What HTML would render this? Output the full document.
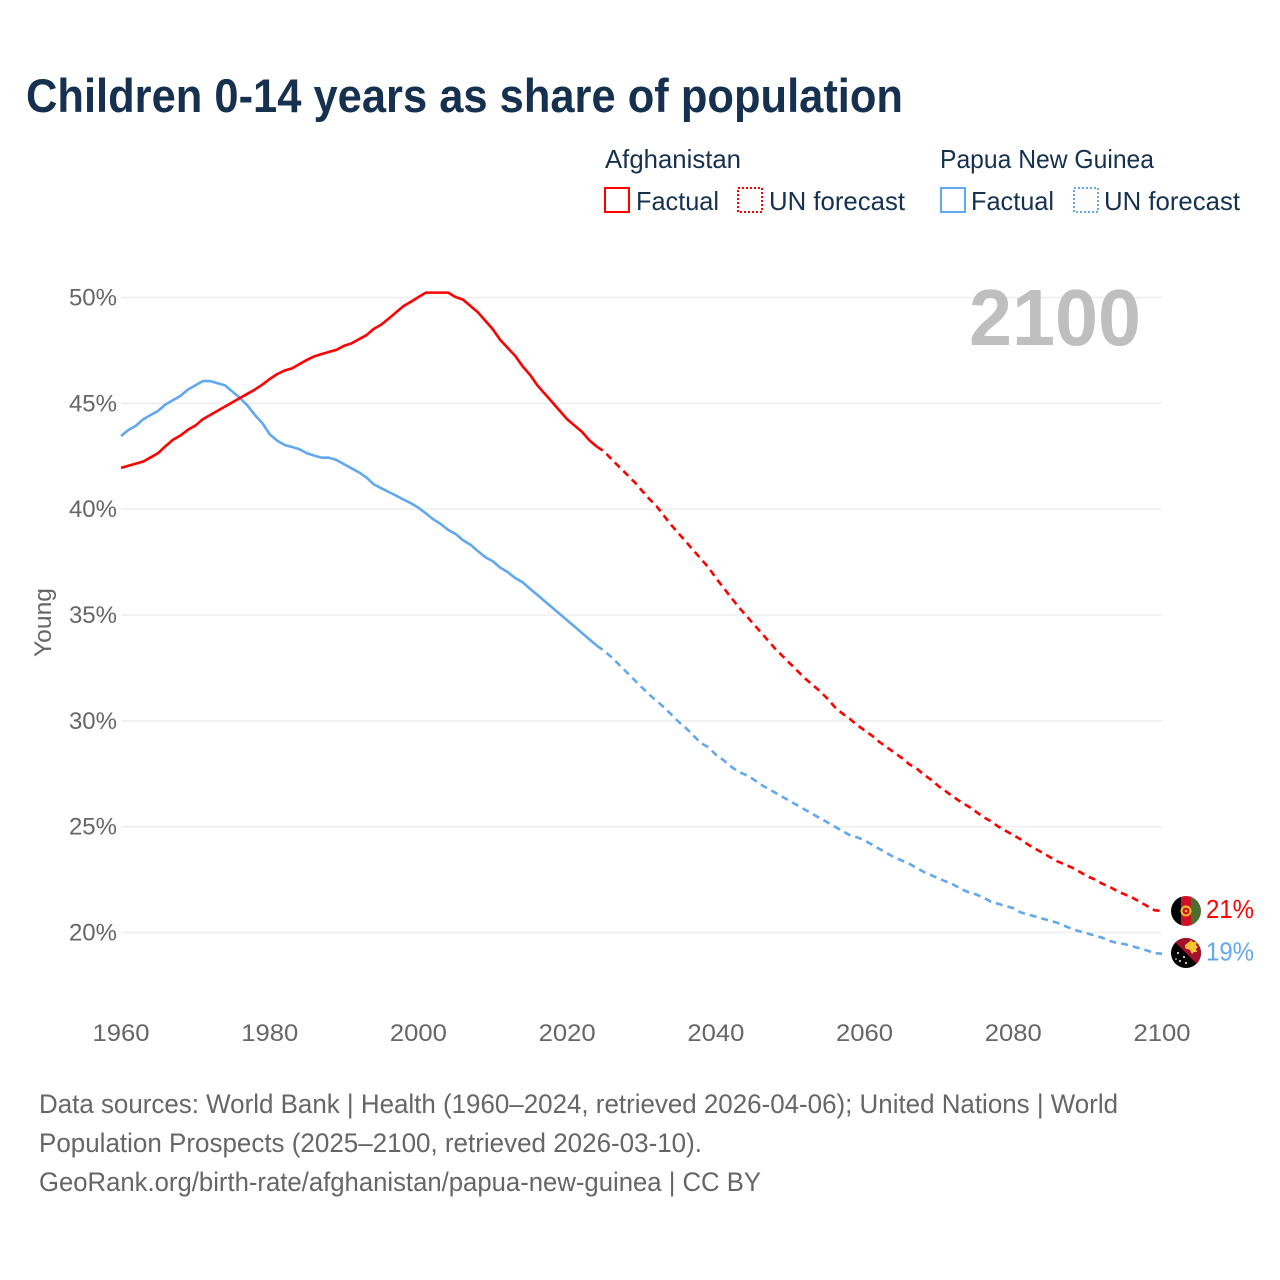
<!DOCTYPE html>
<html lang="en">
<head>
<meta charset="utf-8">
<title>Children 0-14 years as share of population</title>
<style>
html,body{margin:0;padding:0;background:#fff}
svg{display:block;font-family:"Liberation Sans",sans-serif}
</style>
</head>
<body>
<svg id="chart" xmlns="http://www.w3.org/2000/svg" width="1280" height="1280" viewBox="0 0 1280 1280">
  <defs>
    <clipPath id="flag-clip-af"><circle cx="1186" cy="911" r="15"/></clipPath>
    <clipPath id="flag-clip-pg"><circle cx="1186" cy="953" r="15"/></clipPath>
  </defs>
  <rect width="1280" height="1280" fill="#fff"/>
  <text x="26" y="112" font-size="47" font-weight="700" fill="#16304f" textLength="877" lengthAdjust="spacingAndGlyphs">Children 0-14 years as share of population</text>

  <g font-size="26" fill="#16304f">
    <text x="605" y="168" textLength="136" lengthAdjust="spacingAndGlyphs">Afghanistan</text>
    <text x="940" y="168" textLength="214" lengthAdjust="spacingAndGlyphs">Papua New Guinea</text>
    <rect x="605" y="188" width="24" height="24" fill="none" stroke="#ff0000" stroke-width="2"/>
    <text x="636" y="210" textLength="83" lengthAdjust="spacingAndGlyphs">Factual</text>
    <rect x="738" y="188" width="24" height="24" fill="none" stroke="#ff0000" stroke-width="2" stroke-dasharray="2 2"/>
    <text x="769" y="210" textLength="136" lengthAdjust="spacingAndGlyphs">UN forecast</text>
    <rect x="941" y="188" width="24" height="24" fill="none" stroke="#62a8ee" stroke-width="2"/>
    <text x="971" y="210" textLength="83" lengthAdjust="spacingAndGlyphs">Factual</text>
    <rect x="1074" y="188" width="24" height="24" fill="none" stroke="#62a8ee" stroke-width="2" stroke-dasharray="2 2"/>
    <text x="1104" y="210" textLength="136" lengthAdjust="spacingAndGlyphs">UN forecast</text>
  </g>

  <g id="grid"></g>
  <g id="y-ticks"></g>
  <g id="x-ticks"></g>
  <text transform="translate(51,657) rotate(-90)" font-size="24" fill="#666" textLength="69" lengthAdjust="spacingAndGlyphs">Young</text>
  <text x="969" y="345" font-size="80" font-weight="700" fill="#bfbfbf" textLength="172" lengthAdjust="spacingAndGlyphs">2100</text>
  <g id="series"></g>

  <g clip-path="url(#flag-clip-af)">
    <rect x="1171" y="896" width="10" height="30" fill="#000"/>
    <rect x="1181" y="896" width="10" height="30" fill="#d00f25"/>
    <rect x="1191" y="896" width="10" height="30" fill="#4a7030"/>
    <circle cx="1186" cy="911" r="4.5" fill="none" stroke="#f1c02a" stroke-width="2"/>
    <circle cx="1186" cy="911" r="1.3" fill="#f1c02a"/>
  </g>
  <g clip-path="url(#flag-clip-pg)">
    <rect x="1171" y="938" width="30" height="30" fill="#000"/>
    <polygon points="1171,938 1201,938 1201,968" fill="#a80f2c"/>
    <path d="M1185,945 l4,-3 l2,-2 l2,2 l4,0 l-1,3 l2,2 l-2,2 l1,3 l-3,0 l-2,2 l-2,-4 l-3,-1 l-2,-1z" fill="#f4c531"/>
    <g fill="#fff">
      <circle cx="1178" cy="953" r="1"/><circle cx="1184" cy="957" r="1"/>
      <circle cx="1180" cy="961" r="1"/><circle cx="1186" cy="963" r="1"/><circle cx="1176" cy="959" r=".8"/>
    </g>
  </g>
  <g id="end-labels" font-size="26"></g>

  <g font-size="27" fill="#666">
    <text x="39" y="1113" textLength="1079" lengthAdjust="spacingAndGlyphs">Data sources: World Bank | Health (1960–2024, retrieved 2026-04-06); United Nations | World</text>
    <text x="39" y="1152" textLength="663" lengthAdjust="spacingAndGlyphs">Population Prospects (2025–2100, retrieved 2026-03-10).</text>
    <text x="39" y="1191" textLength="722" lengthAdjust="spacingAndGlyphs">GeoRank.org/birth-rate/afghanistan/papua-new-guinea | CC BY</text>
  </g>
</svg>
<script>
const factualStartYear = 1960;
const forecastStartYear = 2024;
const xTickLabels = [1960, 1980, 2000, 2020, 2040, 2060, 2080, 2100];
const yTickLabels = [20, 25, 30, 35, 40, 45, 50];

const afghanistanFactual = [
41.95,42.05,42.15,42.25,42.45,42.65,42.98,43.28,43.48,43.75,
43.95,44.25,44.45,44.65,44.85,45.05,45.25,45.45,45.65,45.88,
46.15,46.38,46.55,46.65,46.85,47.05,47.22,47.33,47.43,47.53,
47.72,47.83,48.03,48.22,48.52,48.72,49.0,49.3,49.6,49.8,
50.02,50.23,50.23,50.23,50.23,50.02,49.9,49.6,49.3,48.9,
48.5,48.0,47.62,47.25,46.75,46.35,45.85,45.45,45.05,44.65,
44.25,43.95,43.65,43.25,42.95];
const afghanistanForecast = [
42.95,42.72,42.35,42.0,41.65,41.3,40.9,40.5,40.15,39.7,39.25,
38.85,38.45,38.05,37.65,37.25,36.75,36.3,35.85,35.4,35.0,
34.6,34.2,33.8,33.4,33.05,32.7,32.35,32.0,31.7,31.4,
31.05,30.65,30.35,30.1,29.8,29.55,29.3,29.0,28.75,28.5,
28.25,27.95,27.75,27.45,27.2,26.9,26.65,26.4,26.15,25.95,
25.7,25.45,25.25,25.0,24.8,24.6,24.4,24.15,23.95,23.75,
23.55,23.35,23.2,23.05,22.85,22.65,22.5,22.3,22.15,21.95,
21.8,21.65,21.45,21.25,21.05,21.02];
const pngFactual = [
43.46,43.74,43.94,44.25,44.45,44.65,44.95,45.15,45.35,45.65,
45.85,46.05,46.05,45.95,45.85,45.55,45.25,44.9,44.45,44.07,
43.54,43.24,43.03,42.94,42.83,42.64,42.53,42.43,42.43,42.32,
42.12,41.93,41.74,41.5,41.17,40.99,40.81,40.64,40.45,40.28,
40.07,39.8,39.52,39.3,39.02,38.83,38.53,38.32,38.02,37.73,
37.54,37.24,37.03,36.75,36.55,36.24,35.95,35.65,35.35,35.05,
34.75,34.45,34.15,33.85,33.55];
const pngForecast = [
33.55,33.3,33.0,32.65,32.3,31.95,31.6,31.25,30.95,30.65,30.3,
29.95,29.65,29.3,28.95,28.75,28.4,28.15,27.85,27.6,27.45,
27.25,27.0,26.8,26.6,26.4,26.2,26.0,25.8,25.6,25.4,
25.2,25.0,24.8,24.6,24.5,24.35,24.15,23.95,23.75,23.55,
23.4,23.25,23.05,22.85,22.7,22.55,22.4,22.25,22.05,21.9,
21.8,21.65,21.45,21.35,21.25,21.15,20.95,20.85,20.75,20.65,
20.55,20.45,20.3,20.15,20.05,19.95,19.85,19.75,19.6,19.5,
19.45,19.35,19.25,19.15,19.02,19.0];

const SVG_NS = 'http://www.w3.org/2000/svg';
function xScale(year) { return 121 + (year - 1960) * (1162 - 121) / (2100 - 1960); }
function yScale(value) { return 932.5 - (value - 20) * (932.5 - 297.5) / (50 - 20); }
function linePath(values, startYear) {
  return values.map(function (v, i) {
    return (i ? 'L' : 'M') + xScale(startYear + i).toFixed(2) + ' ' + yScale(v).toFixed(2);
  }).join(' ');
}
function make(tag, parent) {
  const el = document.createElementNS(SVG_NS, tag);
  parent.appendChild(el);
  return el;
}

const gridGroup = document.getElementById('grid');
const yTickGroup = document.getElementById('y-ticks');
const xTickGroup = document.getElementById('x-ticks');
const seriesGroup = document.getElementById('series');
const endGroup = document.getElementById('end-labels');

yTickLabels.forEach(function (t) {
  const line = make('line', gridGroup);
  
  
  line.setAttribute('x1', xScale(1960));
  line.setAttribute('x2', xScale(2100));
  line.setAttribute('y1', yScale(t));
  line.setAttribute('y2', yScale(t));
  line.setAttribute('stroke', '#eeeeee');
  line.setAttribute('stroke-width', '1.5');

  const label = make('text', yTickGroup);
  
  
  label.setAttribute('x', 117);
  label.setAttribute('y', yScale(t) + 8);
  label.setAttribute('text-anchor', 'end');
  label.setAttribute('font-size', '24');
  label.setAttribute('fill', '#666');
  label.textContent = t + '%';
});

xTickLabels.forEach(function (t) {
  const label = make('text', xTickGroup);
  
  
  label.setAttribute('x', xScale(t) - 28.5);
  label.setAttribute('y', 1041);
  label.setAttribute('font-size', '24');
  label.setAttribute('fill', '#666');
  label.setAttribute('textLength', '57');
  label.setAttribute('lengthAdjust', 'spacingAndGlyphs');
  label.textContent = t;
});

function drawSeries(values, startYear, color, dashed, name) {
  const path = make('path', seriesGroup);
  
  
  path.setAttribute('d', linePath(values, startYear));
  path.setAttribute('fill', 'none');
  path.setAttribute('stroke', color);
  path.setAttribute('stroke-width', '2.6');
  path.setAttribute('stroke-linejoin', 'round');
  if (dashed) path.setAttribute('stroke-dasharray', '7 5');
}
drawSeries(pngFactual, factualStartYear, '#62a8ee', false, 'line-png-factual');
drawSeries(pngForecast, forecastStartYear, '#62a8ee', true, 'line-png-forecast');
drawSeries(afghanistanFactual, factualStartYear, '#ff0000', false, 'line-afghanistan-factual');
drawSeries(afghanistanForecast, forecastStartYear, '#ff0000', true, 'line-afghanistan-forecast');

function drawEndLabel(values, color, name) {
  const last = values[values.length - 1];
  const label = make('text', endGroup);
  
  
  label.setAttribute('x', 1206);
  label.setAttribute('y', yScale(last) + 7);
  label.setAttribute('fill', color);
  label.setAttribute('textLength', '48');
  label.setAttribute('lengthAdjust', 'spacingAndGlyphs');
  label.textContent = Math.round(last) + '%';
}
drawEndLabel(afghanistanForecast, '#ff0000', 'end-label-afghanistan');
drawEndLabel(pngForecast, '#62a8ee', 'end-label-png');
</script>
</body>
</html>
